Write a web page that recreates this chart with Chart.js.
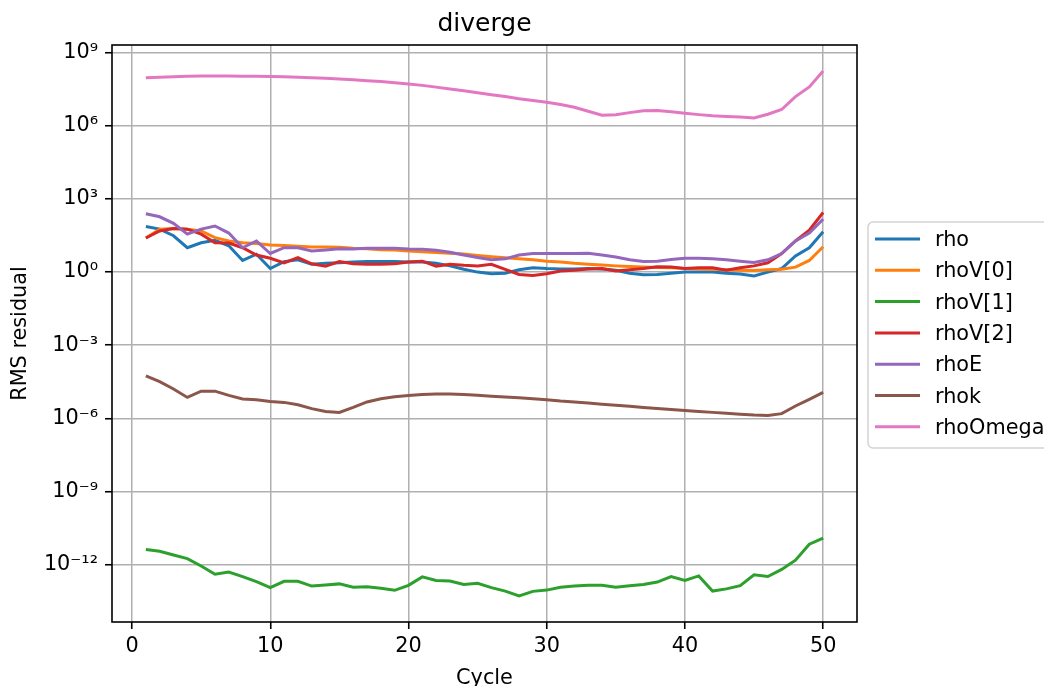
<!DOCTYPE html>
<html>
<head>
<meta charset="utf-8">
<script src="https://cdn.jsdelivr.net/npm/chart.js@4.4.1/dist/chart.umd.min.js"></script>
<style>
  html, body { margin: 0; padding: 0; background: #fff; }
  #wrap { width: 1044px; height: 686px; }
</style>
</head>
<body>
<div id="wrap"><canvas id="residuals" width="1044" height="686"></canvas></div>
<script>
const cycles = [1, 2, 3, 4, 5, 6, 7, 8, 9, 10, 11, 12, 13, 14, 15, 16, 17, 18, 19, 20,
  21, 22, 23, 24, 25, 26, 27, 28, 29, 30, 31, 32, 33, 34, 35, 36, 37, 38, 39, 40,
  41, 42, 43, 44, 45, 46, 47, 48, 49, 50]

const rho = [74, 58, 31, 10, 16, 20, 12, 3.0, 5.4, 1.4, 2.7, 3.2, 2.1, 2.3, 2.4, 2.6, 2.75, 2.75, 2.75, 2.6,
  2.6, 2.3, 1.8, 1.3, 1.0, 0.85, 0.9, 1.25, 1.5, 1.4, 1.35, 1.35, 1.4, 1.35, 1.2, 0.9, 0.78, 0.8, 0.9, 1.0,
  1.0, 1.0, 0.9, 0.83, 0.7, 1.0, 1.4, 4.6, 10, 45]
const rhoV0 = [25, 58, 62, 58, 49, 26, 19, 16, 15, 13, 12.3, 11.5, 10.7, 10.7, 10.5, 9.5, 9.1, 8.3, 8.1, 7.4,
  6.9, 6.3, 5.9, 5.5, 4.8, 4.3, 3.9, 3.5, 3.2, 2.8, 2.6, 2.3, 2.1, 1.95, 1.8, 1.7, 1.6, 1.55, 1.5, 1.4,
  1.35, 1.3, 1.25, 1.2, 1.17, 1.25, 1.3, 1.6, 3.0, 11]
const rhoV1 = [4.1e-12, 3.5e-12, 2.45e-12, 1.75e-12, 8.7e-13, 4.0e-13, 4.9e-13, 3.2e-13, 2.0e-13, 1.12e-13,
  2.05e-13, 2.05e-13, 1.3e-13, 1.45e-13, 1.6e-13, 1.17e-13, 1.23e-13, 1.05e-13, 8.7e-14, 1.4e-13,
  3.1e-13, 2.2e-13, 2.1e-13, 1.5e-13, 1.7e-13, 1.12e-13, 8.1e-14, 5.1e-14, 7.9e-14, 8.9e-14,
  1.17e-13, 1.3e-13, 1.4e-13, 1.4e-13, 1.17e-13, 1.35e-13, 1.5e-13, 1.9e-13, 3.2e-13, 2.2e-13,
  3.4e-13, 8.1e-14, 1.0e-13, 1.35e-13, 3.8e-13, 3.2e-13, 6.3e-13, 1.5e-12, 6.8e-12, 1.2e-11]
const rhoV2 = [25, 49, 62, 58, 36, 16, 15.5, 10, 5.0, 3.7, 2.4, 3.9, 2.2, 1.75, 2.7, 2.2, 2.1, 2.1, 2.2, 2.6,
  2.8, 1.75, 2.1, 1.9, 1.8, 2.1, 1.3, 0.8, 0.72, 0.85, 1.1, 1.2, 1.35, 1.4, 1.1, 1.25, 1.4, 1.65, 1.6, 1.4,
  1.5, 1.5, 1.2, 1.5, 1.8, 2.4, 5.8, 19, 52, 280]
const rhoE = [250, 186, 100, 36, 58, 78, 40, 10, 19, 5.8, 10, 10, 7.4, 8.1, 9.1, 8.9, 9.5, 9.5, 9.5, 8.9,
  8.7, 7.9, 6.5, 5.0, 4.0, 3.2, 3.5, 5.0, 5.8, 5.8, 5.8, 5.8, 5.9, 5.0, 4.2, 3.2, 2.7, 2.8, 3.3, 3.7,
  3.7, 3.5, 3.2, 2.8, 2.5, 3.2, 5.8, 19, 40, 150]
const rhok = [5.5e-5, 3.2e-5, 1.6e-5, 7.2e-6, 1.3e-5, 1.3e-5, 8.7e-6, 6.2e-6, 5.8e-6, 4.9e-6,
  4.5e-6, 3.6e-6, 2.5e-6, 1.9e-6, 1.75e-6, 2.8e-6, 4.7e-6, 6.3e-6, 7.6e-6, 8.7e-6,
  9.5e-6, 1.0e-5, 1.0e-5, 9.5e-6, 8.9e-6, 8.1e-6, 7.4e-6, 6.9e-6, 6.3e-6, 5.8e-6,
  5.1e-6, 4.7e-6, 4.2e-6, 3.8e-6, 3.4e-6, 3.1e-6, 2.75e-6, 2.5e-6, 2.3e-6, 2.1e-6,
  1.9e-6, 1.75e-6, 1.6e-6, 1.45e-6, 1.35e-6, 1.3e-6, 1.55e-6, 3.2e-6, 6.0e-6, 1.15e-5]
const rhoOmega = [9.5e7, 1.0e8, 1.05e8, 1.1e8, 1.12e8, 1.12e8, 1.12e8, 1.1e8, 1.1e8, 1.07e8,
  1.05e8, 1.0e8, 9.5e7, 9.1e7, 8.5e7, 7.9e7, 7.2e7, 6.6e7, 5.9e7, 5.2e7,
  4.6e7, 3.9e7, 3.3e7, 2.75e7, 2.3e7, 1.9e7, 1.6e7, 1.3e7, 1.1e7, 9.3e6,
  7.6e6, 5.8e6, 4.0e6, 2.75e6, 2.9e6, 3.5e6, 4.2e6, 4.3e6, 3.8e6, 3.3e6,
  2.9e6, 2.6e6, 2.45e6, 2.3e6, 2.1e6, 3.0e6, 4.7e6, 1.6e7, 4.0e7, 1.8e8]

const seriesNames = ['rho', 'rhoV[0]', 'rhoV[1]', 'rhoV[2]', 'rhoE', 'rhok', 'rhoOmega']
const seriesValues = [rho, rhoV0, rhoV1, rhoV2, rhoE, rhok, rhoOmega]
const seriesColors = ['#1f77b4', '#ff7f0e', '#2ca02c', '#d62728', '#9467bd', '#8c564b', '#e377c2']

const xTicks = [0, 10, 20, 30, 40, 50]
const yTickExponents = [-12, -9, -6, -3, 0, 3, 6, 9]

const FONT = 'DejaVu Sans'
const SUP = { '-': '⁻', 0: '⁰', 1: '¹', 2: '²', 3: '³', 4: '⁴', 5: '⁵', 6: '⁶', 7: '⁷', 8: '⁸', 9: '⁹' }

function powerLabel (value) {
  const exp = String(Math.round(Math.log10(value)))
  return '10' + exp.split('').map(c => SUP[c]).join('')
}

// title, axes frame and the outside legend, drawn like matplotlib does
const decorations = {
  id: 'decorations',
  afterDatasetsDraw (chart) {
    const { ctx, chartArea: a } = chart
    ctx.save()
    ctx.strokeStyle = '#000'
    ctx.lineWidth = 1.6
    ctx.strokeRect(a.left, a.top, a.right - a.left, a.bottom - a.top)

    ctx.fillStyle = '#000'
    ctx.font = `25px "${FONT}"`
    ctx.textAlign = 'center'
    ctx.textBaseline = 'alphabetic'
    ctx.fillText('diverge', (a.left + a.right) / 2, 31)

    const boxX = a.right + 11
    const boxY = 222
    ctx.beginPath()
    ctx.roundRect(boxX, boxY, 200, 226, 5)
    ctx.fillStyle = 'rgba(255,255,255,0.8)'
    ctx.fill()
    ctx.strokeStyle = '#d3d3d3'
    ctx.lineWidth = 1.5
    ctx.stroke()

    ctx.font = `20.8px "${FONT}"`
    ctx.textAlign = 'left'
    seriesNames.forEach((name, i) => {
      const y = 239 + i * 31.3
      ctx.strokeStyle = seriesColors[i]
      ctx.lineWidth = 3
      ctx.beginPath()
      ctx.moveTo(boxX + 7, y)
      ctx.lineTo(boxX + 52, y)
      ctx.stroke()
      ctx.fillStyle = '#000'
      ctx.fillText(name, boxX + 67, y + 7)
    })
    ctx.restore()
  }
}

const datasets = seriesNames.map((name, i) => ({
  label: name,
  data: cycles.map((c, j) => ({ x: c, y: seriesValues[i][j] })),
  borderColor: seriesColors[i],
  backgroundColor: seriesColors[i],
  borderWidth: 3,
  pointRadius: 0,
  tension: 0,
  order: seriesNames.length - i
}))

// eslint-disable-next-line no-unused-vars, no-undef
const chart = new Chart(document.querySelector('#residuals'), {
  type: 'line',
  data: { datasets },
  plugins: [decorations],
  options: {
    responsive: false,
    animation: false,
    devicePixelRatio: 1,
    layout: { padding: { top: 45, right: 187, left: 0, bottom: 0 } },
    plugins: {
      legend: { display: false },
      title: { display: false },
      tooltip: { enabled: false }
    },
    scales: {
      x: {
        type: 'linear',
        min: -1.45,
        max: 52.45,
        afterBuildTicks: scale => { scale.ticks = xTicks.map(v => ({ value: v })) },
        afterFit: scale => { scale.height = 64 },
        border: { display: false },
        grid: { color: '#b0b0b0', lineWidth: 1.5, tickColor: '#000', tickLength: 7, tickWidth: 1.6 },
        ticks: { color: '#000', font: { family: FONT, size: 20.8 }, padding: 5, maxRotation: 0 },
        title: { display: true, text: 'Cycle', color: '#000', font: { family: FONT, size: 20.8 }, padding: { top: 0, bottom: -5 } }
      },
      y: {
        type: 'logarithmic',
        min: Math.pow(10, -14.36),
        max: Math.pow(10, 9.32),
        afterBuildTicks: scale => { scale.ticks = yTickExponents.map(e => ({ value: Math.pow(10, e) })) },
        afterFit: scale => { scale.width = 112 },
        border: { display: false },
        grid: { color: '#b0b0b0', lineWidth: 1.5, tickColor: '#000', tickLength: 7, tickWidth: 1.6 },
        ticks: { color: '#000', font: { family: FONT, size: 20.8 }, padding: 7, callback: v => powerLabel(v) },
        title: { display: true, text: 'RMS residual', color: '#000', font: { family: FONT, size: 20.8 }, padding: { top: 8, bottom: 0 } }
      }
    }
  }
})
</script>
</body>
</html>
